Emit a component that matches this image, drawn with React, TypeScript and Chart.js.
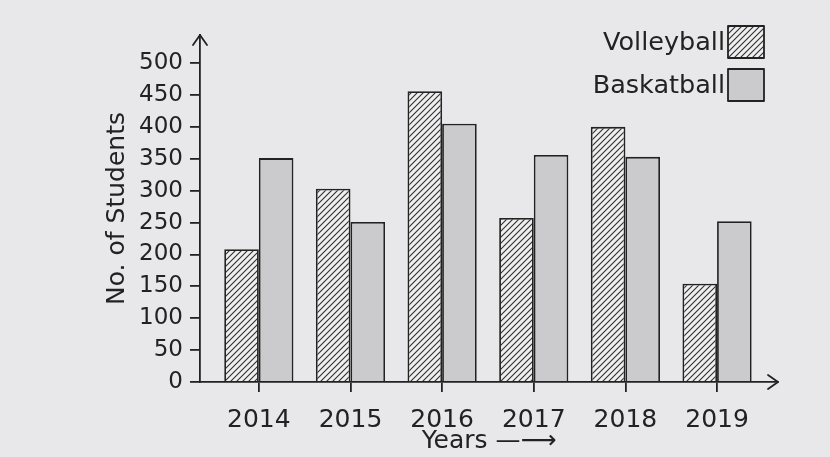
import React, { useEffect, useRef } from "react";
import { Chart, registerables } from "chart.js";

Chart.register(...registerables);

// ---- data ----
const categories = ["2014", "2015", "2016", "2017", "2018", "2019"];
const seriesLabels = ["Volleyball", "Baskatball"];
const volleyball = [208, 303, 456, 257, 400, 154];
const basketball = [351, 251, 405, 356, 353, 252];
const yTickValues = [0, 50, 100, 150, 200, 250, 300, 350, 400, 450, 500];
const yAxisTitle = "No. of Students";
const xAxisTitle = "Years —⟶";

// ---- styles ----
const INK = "#222222";
const PAPER = "#e8e8ea";
const HATCH_BG = "#efefef";
const GRAY = "#cbcbcd";
const FONT = "'DejaVu Sans', sans-serif";
const W = 830;
const H = 457;

function makeHatch(ctx: CanvasRenderingContext2D): CanvasPattern | string {
  const c = document.createElement("canvas");
  const s = 6;
  c.width = s;
  c.height = s;
  const g = c.getContext("2d");
  if (!g) return HATCH_BG;
  g.fillStyle = HATCH_BG;
  g.fillRect(0, 0, s, s);
  g.strokeStyle = "#2e2e2e";
  g.lineWidth = 1.1;
  g.beginPath();
  g.moveTo(-1, s + 1);
  g.lineTo(s + 1, -1);
  g.moveTo(-1, 1);
  g.lineTo(1, -1);
  g.moveTo(s - 1, s + 1);
  g.lineTo(s + 1, s - 1);
  g.stroke();
  return ctx.createPattern(c, "repeat") || HATCH_BG;
}

export default function App() {
  const ref = useRef<HTMLCanvasElement | null>(null);

  useEffect(() => {
    const canvas = ref.current;
    if (!canvas) return;
    const ctx = canvas.getContext("2d");
    if (!ctx) return;
    const hatch = makeHatch(ctx);
    const fills = [hatch, GRAY];

    const bgPlugin = {
      id: "paper",
      beforeDraw(chart: any) {
        const c = chart.ctx;
        c.save();
        c.fillStyle = PAPER;
        c.fillRect(0, 0, chart.width, chart.height);
        c.restore();
      },
    };

    const decoPlugin = {
      id: "deco",
      afterDraw(chart: any) {
        const c = chart.ctx;
        const { left, top, right, bottom } = chart.chartArea;
        c.save();
        c.strokeStyle = INK;
        c.lineWidth = 1.8;
        c.lineCap = "round";
        c.lineJoin = "round";
        // arrow heads on axes
        c.beginPath();
        c.moveTo(left - 7, top + 10);
        c.lineTo(left, top);
        c.lineTo(left + 7, top + 10);
        c.moveTo(right - 10, bottom - 7);
        c.lineTo(right, bottom);
        c.lineTo(right - 10, bottom + 7);
        c.stroke();

        // legend (text left of box)
        const boxX = 728;
        const boxW = 36;
        const boxH = 32;
        chart.data.datasets.forEach((ds: any, i: number) => {
          const by = 26 + i * 43;
          c.fillStyle = fills[i];
          c.fillRect(boxX, by, boxW, boxH);
          c.lineWidth = 1.8;
          c.strokeStyle = INK;
          c.strokeRect(boxX, by, boxW, boxH);
          c.fillStyle = INK;
          c.font = `25.5px ${FONT}`;
          c.textAlign = "right";
          c.textBaseline = "middle";
          c.fillText(ds.label, boxX - 3, by + boxH / 2 + 1);
        });
        c.restore();
      },
    };

    const chart = new Chart(ctx, {
      type: "bar",
      data: {
        datasets: [
          {
            label: seriesLabels[0],
            data: categories.map((c, i) => ({ x: Number(c), y: volleyball[i] })),
            backgroundColor: hatch as any,
            borderColor: INK,
            borderWidth: 1.8,
          },
          {
            label: seriesLabels[1],
            data: categories.map((c, i) => ({ x: Number(c), y: basketball[i] })),
            backgroundColor: GRAY,
            borderColor: INK,
            borderWidth: 1.8,
          },
        ],
      },
      options: {
        responsive: false,
        animation: false,
        categoryPercentage: 0.755,
        barPercentage: 1.0,
        layout: { padding: { left: 98, right: 52, top: 35, bottom: 0 } },
        plugins: {
          legend: { display: false },
          tooltip: { enabled: false },
        },
        scales: {
          x: {
            type: "linear",
            offset: false,
            min: 2013.358,
            max: 2019.665,
            afterBuildTicks: (s: any) => {
              s.ticks = categories.map((c) => ({ value: Number(c) }));
            },
            afterFit: (s: any) => {
              s.height = H - 382;
            },
            grid: {
              display: true,
              offset: false,
              drawOnChartArea: false,
              drawTicks: true,
              tickLength: 10,
              color: INK,
              lineWidth: 1.8,
            },
            border: { display: true, color: INK, width: 1.8 },
            ticks: {
              color: INK,
              padding: 13,
              font: { family: FONT, size: 25 },
              callback: (v: any) => {
                const idx = categories.indexOf(String(v));
                return idx >= 0 ? categories[idx] : "";
              },
            },
            title: {
              display: true,
              text: xAxisTitle,
              color: INK,
              font: { family: FONT, size: 25 },
              padding: { top: 0, bottom: 1 },
            },
          },
          y: {
            min: 0,
            max: 544,
            afterBuildTicks: (s: any) => {
              s.ticks = yTickValues.map((v) => ({ value: v }));
            },
            afterFit: (s: any) => {
              s.width = 200 - 98;
            },
            grid: {
              display: true,
              drawOnChartArea: false,
              drawTicks: true,
              tickLength: 10,
              color: INK,
              lineWidth: 1.8,
            },
            border: { display: true, color: INK, width: 1.8 },
            ticks: {
              color: INK,
              padding: 7,
              font: { family: FONT, size: 23 },
              callback: (v: any) => String(v),
            },
            title: {
              display: true,
              text: yAxisTitle,
              color: INK,
              font: { family: FONT, size: 25 },
              padding: { top: 4, bottom: 4 },
            },
          },
        },
      },
      plugins: [bgPlugin, decoPlugin],
    } as any);

    return () => chart.destroy();
  }, []);

  return (
    <div style={{ position: "fixed", left: 0, top: 0, width: W, height: H }}>
      <canvas ref={ref} width={W} height={H} style={{ width: W, height: H, display: "block" }} />
    </div>
  );
}
